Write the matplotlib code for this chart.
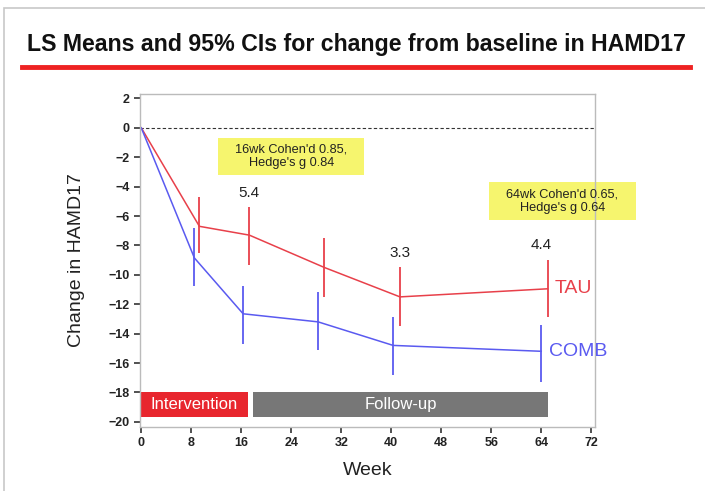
import matplotlib
matplotlib.use("Agg")
import matplotlib.pyplot as plt
from matplotlib.patches import Rectangle

plt.rcParams['font.family'] = ['Liberation Sans', 'DejaVu Sans']

# LS means and 95% CI (change from baseline in HAMD17)
tau_week = [0, 9.3, 17.3, 29.3, 41.4, 65.0]
tau_mean = [0, -6.7, -7.3, -9.5, -11.5, -10.95]
tau_lo = [0, -8.5, -9.3, -11.5, -13.5, -12.9]
tau_hi = [0, -4.7, -5.4, -7.5, -9.5, -9.0]

comb_week = [0, 8.5, 16.3, 28.3, 40.3, 64.0]
comb_mean = [0, -8.85, -12.65, -13.2, -14.8, -15.2]
comb_lo = [0, -10.75, -14.7, -15.1, -16.8, -17.3]
comb_hi = [0, -6.8, -10.75, -11.2, -12.9, -13.4]

diff_week = [17.3, 41.4, 64.0]
diff_text = ["5.4", "3.3", "4.4"]
diff_y = [-4.4, -8.5, -8.0]

x_ticks = [0, 8, 16, 24, 32, 40, 48, 56, 64, 72]
y_ticks = list(range(-20, 3, 2))

RED = "#e8404a"
BLUE = "#5a5af0"

fig = plt.figure(figsize=(7.05, 4.91), dpi=100)

# outer frame and title
fig.patches.append(Rectangle((4 / 705, -0.1), 1.2, 1 - 8 / 491 + 0.1, transform=fig.transFigure,
                             fill=False, edgecolor="#c8c8c8", linewidth=1.2))
fig.text(27 / 705, 1 - 45 / 491, "LS Means and 95% CIs for change from baseline in HAMD17",
         fontsize=16.7, fontweight="bold", color="#111111", va="center", ha="left")
fig.lines.append(plt.Line2D([22 / 705, 690 / 705], [1 - 67 / 491, 1 - 67 / 491],
                            transform=fig.transFigure, color="#ee2222", linewidth=3.5))

ax = fig.add_axes([140 / 705, 1 - 427 / 491, 455 / 705, 333 / 491])

ax.axhline(0, color="#333333", linewidth=0.8, linestyle=(0, (3, 2)))

for wk, m, lo, hi, col in [(tau_week, tau_mean, tau_lo, tau_hi, RED),
                          (comb_week, comb_mean, comb_lo, comb_hi, BLUE)]:
    ax.plot(wk, m, color=col, linewidth=1.1)
    ax.vlines(wk[1:], lo[1:], hi[1:], color=col, linewidth=1.3)

for wk, t, y in zip(diff_week, diff_text, diff_y):
    ax.text(wk, y, t, ha="center", va="center", fontsize=11, color="#222222")

ax.text(66.2, tau_mean[-1], "TAU", color=RED, fontsize=14, va="center", ha="left")
ax.text(65.2, comb_mean[-1], "COMB", color=BLUE, fontsize=14, va="center", ha="left")

# effect size boxes
ax.add_patch(Rectangle((12.3, -3.2), 23.4, 2.5, facecolor="#f6f56e", edgecolor="none"))
ax.text(24.0, -1.95, "16wk Cohen'd 0.85,\nHedge's g 0.84", ha="center", va="center",
        fontsize=9.2, color="#222222", linespacing=1.2)
ax.add_patch(Rectangle((55.7, -6.3), 23.4, 2.6, facecolor="#f6f56e", edgecolor="none",
                       clip_on=False))
ax.text(67.4, -5.0, "64wk Cohen'd 0.65,\nHedge's g 0.64", ha="center", va="center",
        fontsize=9.2, color="#222222", linespacing=1.2, clip_on=False)

# study phase bars
ax.add_patch(Rectangle((0, -19.7), 17.1, 1.7, facecolor="#e8262e", edgecolor="none"))
ax.text(8.5, -18.85, "Intervention", color="white", ha="center", va="center", fontsize=12)
ax.add_patch(Rectangle((17.9, -19.7), 47.1, 1.7, facecolor="#777777", edgecolor="none"))
ax.text(41.5, -18.85, "Follow-up", color="white", ha="center", va="center", fontsize=12)

ax.set_xlim(-0.2, 72.6)
ax.set_ylim(-20.35, 2.3)
ax.set_xticks(x_ticks)
ax.set_yticks(y_ticks)
ax.set_yticklabels([str(v).replace("-", "\u2212") for v in y_ticks])
for s in ax.spines.values():
    s.set_color("#bbbbbb")
    s.set_linewidth(1.0)
ax.tick_params(direction="out", length=4, width=1.2, color="#333333",
               labelsize=9, labelcolor="#222222")
for lab in ax.get_xticklabels() + ax.get_yticklabels():
    lab.set_fontweight("bold")

ax.set_xlabel("Week", fontsize=14, color="#222222", labelpad=9)
ax.set_ylabel("Change in HAMD17", fontsize=14, color="#222222", labelpad=17)

fig.savefig("out.png", dpi=100)
